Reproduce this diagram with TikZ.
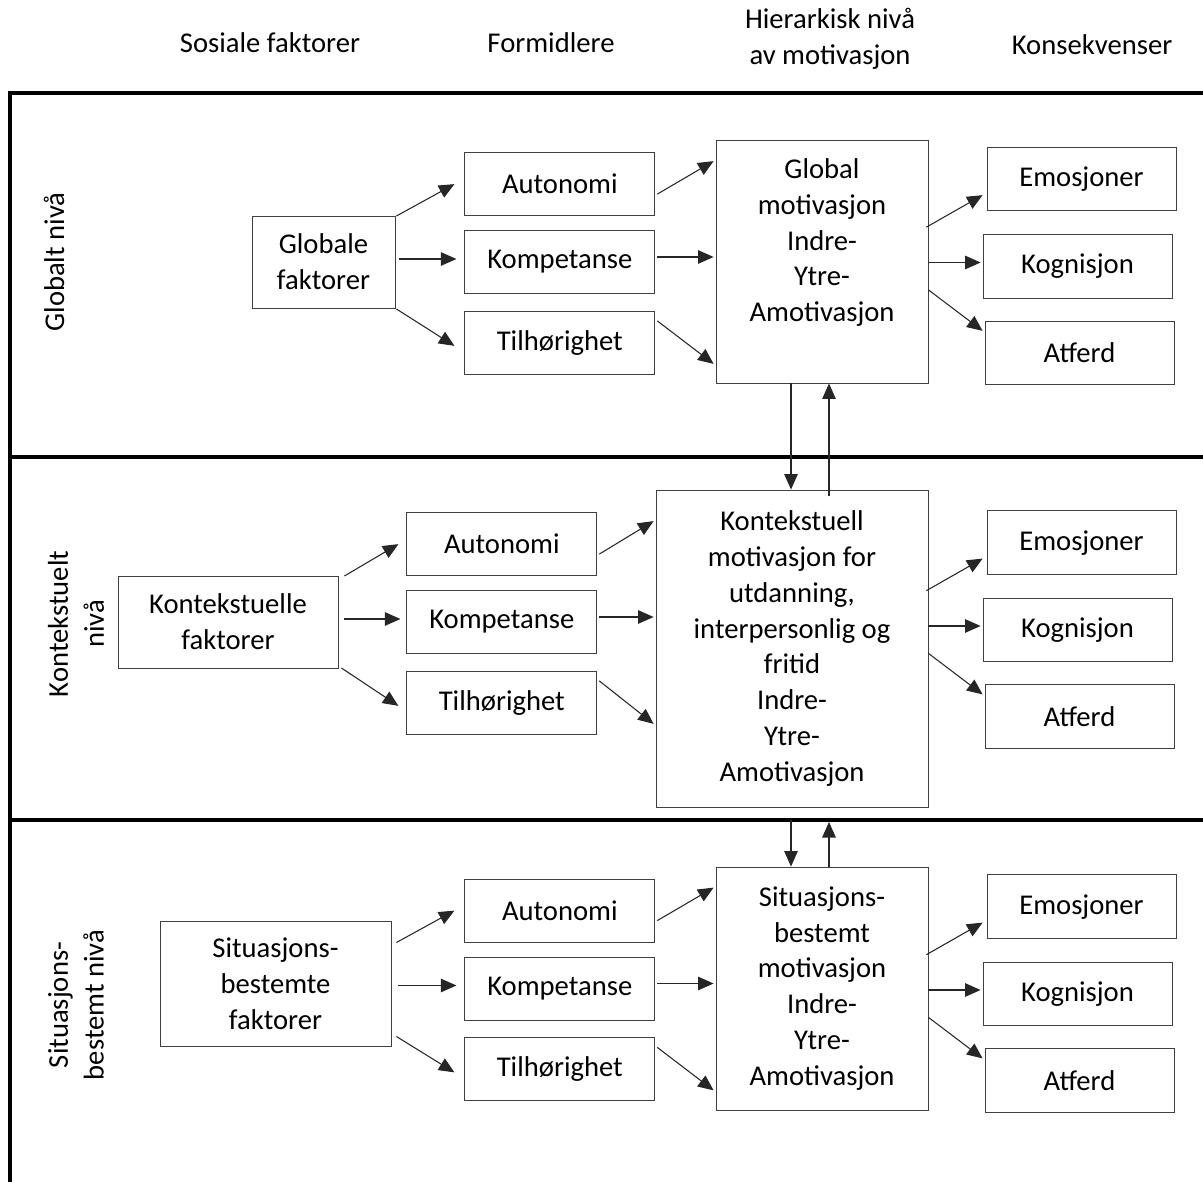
\documentclass[tikz,border=0pt]{standalone}
\usepackage{fontspec}
\setmainfont{Carlito}
\usetikzlibrary{arrows.meta, positioning, calc}

\begin{document}
\begin{tikzpicture}[
    x=0.02cm, y=-0.02cm,
    font=\fontsize{16.3}{20.4}\selectfont,
    box/.style={draw=black!75, line width=0.5pt, align=center, inner sep=2pt},
    med/.style={box, minimum width=3.8cm, minimum height=1.26cm},
    cons/.style={box, minimum width=3.78cm, minimum height=1.27cm},
    arr/.style={-{Triangle[length=0.31cm, width=0.27cm]}, black!85, line width=0.6pt},
    frame/.style={line width=2pt},
    head/.style={align=center},
    lvl/.style={rotate=90, align=center},
]

\useasboundingbox (0,0) rectangle (1203,1182);

% frame and level dividers
\coordinate (top) at (10,93);
\coordinate (div1) at (10,457);
\coordinate (div2) at (10,820);
\draw[frame] (10,1182) -- (top) -- (1203,93);
\draw[frame] (div1) -- (1203,457);
\draw[frame] (div2) -- (1203,820);

% column heads
\node[head] (hsos) at (270,43) {Sosiale faktorer};
\node[head] (hform) at (551,43) {Formidlere};
\node[head] (hhier) at (830,39) {Hierarkisk nivå\\av motivasjon};
\node[head] (hkons) at (1092,45) {Konsekvenser};

% level labels
\node[lvl] (lglob) at (54,262) {Globalt nivå};
\node[lvl] (lkont) at (76,624) {Kontekstuelt\\nivå};
\node[lvl] (lsit) at (76,1005) {Situasjons-\\bestemt nivå};

% Global level
\node[box, minimum width=2.86cm, minimum height=1.84cm] (gfak) at (323.5,262) {Globale\\faktorer};
\node[med, right=1.38cm of gfak] (gkomp) {Kompetanse};
\node[med, above=0.28cm of gkomp] (gaut) {Autonomi};
\node[med, below=0.34cm of gkomp] (gtil) {Tilhørighet};
\node[box, minimum width=4.24cm, minimum height=4.86cm] (gmot) at (822,261.5) {Global\\motivasjon\\Indre-\\Ytre-\\Amotivasjon\\[4pt]\mbox{}};
\node[cons] (gkog) at (1077.5,266.5) {Kognisjon};
\node[cons, above=0.46cm of gkog, xshift=0.08cm] (gemo) {Emosjoner};
\node[cons, below=0.44cm of gkog, xshift=0.04cm] (gatf) {Atferd};
\draw[arr] ($(gfak.east |- gkomp.west)+(1,-46)$) -- ($(gaut.west)+(-10,0)$);
\draw[arr] ($(gfak.east |- gkomp.west)+(4,-3)$) -- ($(gkomp.west)+(-8,-3)$);
\draw[arr] ($(gfak.east |- gkomp.west)+(1,47)$) -- ($(gtil.west)+(-10,3)$);
\draw[arr] ($(gaut.east)+(2,10)$) -- ($(gmot.west |- gaut.east)+(-2,-23)$);
\draw[arr] ($(gkomp.east)+(2,-5)$) -- ($(gmot.west |- gkomp.east)+(-2,-5)$);
\draw[arr] ($(gtil.east)+(2,-22)$) -- ($(gmot.west |- gtil.east)+(-2,21)$);
\draw[arr] ($(gmot.east |- gemo.west)+(-2,48)$) -- ($(gemo.west)+(-4,16)$);
\draw[arr] ($(gmot.east |- gkog.west)+(0,-4)$) -- ($(gkog.west)+(-2,-4)$);
\draw[arr] ($(gmot.east |- gatf.west)+(0,-63)$) -- ($(gatf.west)+(-2,-22)$);

% Contextual level
\node[box, minimum width=4.4cm, minimum height=1.84cm] (kfak) at (228,622) {Kontekstuelle\\faktorer};
\node[med, right=1.36cm of kfak] (kkomp) {Kompetanse};
\node[med, above=0.28cm of kkomp] (kaut) {Autonomi};
\node[med, below=0.34cm of kkomp] (ktil) {Tilhørighet};
\node[box, minimum width=5.44cm, minimum height=6.34cm] (kmot) at (792,648.5) {Kontekstuell\\motivasjon for\\utdanning,\\interpersonlig og\\fritid\\Indre-\\Ytre-\\Amotivasjon};
\node[cons] (kkog) at (1077.5,630) {Kognisjon};
\node[cons, above=0.46cm of kkog, xshift=0.08cm] (kemo) {Emosjoner};
\node[cons, below=0.44cm of kkog, xshift=0.04cm] (katf) {Atferd};
\draw[arr] ($(kfak.east |- kkomp.west)+(6,-46)$) -- ($(kaut.west)+(-8,0)$);
\draw[arr] ($(kfak.east |- kkomp.west)+(6,-3)$) -- ($(kkomp.west)+(-6,-3)$);
\draw[arr] ($(kfak.east |- kkomp.west)+(3,46)$) -- ($(ktil.west)+(-8,3)$);
\draw[arr] ($(kaut.east)+(2,10)$) -- ($(kmot.west |- kaut.east)+(-2,-23)$);
\draw[arr] ($(kkomp.east)+(2,-5)$) -- ($(kmot.west |- kkomp.east)+(-2,-5)$);
\draw[arr] ($(ktil.east)+(2,-22)$) -- ($(kmot.west |- ktil.east)+(-2,21)$);
\draw[arr] ($(kmot.east |- kemo.west)+(-2,48)$) -- ($(kemo.west)+(-4,16)$);
\draw[arr] ($(kmot.east |- kkog.west)+(0,-4)$) -- ($(kkog.west)+(-2,-4)$);
\draw[arr] ($(kmot.east |- katf.west)+(0,-63)$) -- ($(katf.west)+(-2,-22)$);

% Situational level
\node[box, minimum width=4.62cm, minimum height=2.5cm] (sfak) at (275.5,983.5) {Situasjons-\\bestemte\\faktorer};
\node[med, right=1.46cm of sfak, yshift=-0.1cm] (skomp) {Kompetanse};
\node[med, above=0.28cm of skomp] (saut) {Autonomi};
\node[med, below=0.34cm of skomp] (stil) {Tilhørighet};
\node[box, minimum width=4.24cm, minimum height=4.86cm] (smot) at (822,988.5) {Situasjons-\\bestemt\\motivasjon\\Indre-\\Ytre-\\Amotivasjon};
\node[cons] (skog) at (1077.5,994) {Kognisjon};
\node[cons, above=0.46cm of skog, xshift=0.08cm] (semo) {Emosjoner};
\node[cons, below=0.44cm of skog, xshift=0.04cm] (satf) {Atferd};
\draw[arr] ($(sfak.east |- skomp.west)+(5,-46)$) -- ($(saut.west)+(-10,0)$);
\draw[arr] ($(sfak.east |- skomp.west)+(7,-3)$) -- ($(skomp.west)+(-8,-3)$);
\draw[arr] ($(sfak.east |- skomp.west)+(5,48)$) -- ($(stil.west)+(-10,3)$);
\draw[arr] ($(saut.east)+(2,10)$) -- ($(smot.west |- saut.east)+(-2,-23)$);
\draw[arr] ($(skomp.east)+(2,-5)$) -- ($(smot.west |- skomp.east)+(-2,-5)$);
\draw[arr] ($(stil.east)+(2,-22)$) -- ($(smot.west |- stil.east)+(-2,21)$);
\draw[arr] ($(smot.east |- semo.west)+(-2,48)$) -- ($(semo.west)+(-4,16)$);
\draw[arr] ($(smot.east |- skog.west)+(0,-4)$) -- ($(skog.west)+(-2,-4)$);
\draw[arr] ($(smot.east |- satf.west)+(0,-63)$) -- ($(satf.west)+(-2,-22)$);

% between levels
\coordinate (dn) at ($(gmot.south)+(-31,0)$);
\coordinate (up) at ($(gmot.south)+(7,0)$);
\draw[arr] (dn) -- (dn |- kmot.north);
\draw[arr] ($(up |- kmot.north)+(0,6)$) -- (up);
\draw[arr] (dn |- div2) -- (dn |- smot.north);
\draw[arr] (up |- smot.north) -- ($(up |- div2)+(0,2)$);

\end{tikzpicture}
\end{document}
